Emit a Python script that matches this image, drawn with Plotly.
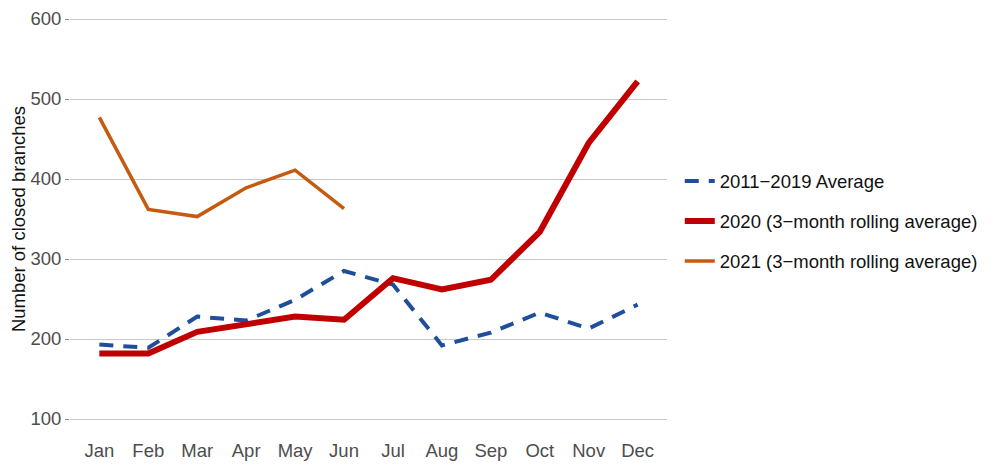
import plotly.graph_objects as go

months = ["Jan", "Feb", "Mar", "Apr", "May", "Jun", "Jul", "Aug", "Sep", "Oct", "Nov", "Dec"]
avg_2011_2019 = [193, 189, 228, 223, 249, 285, 268, 192, 208, 233, 213, 243]
rolling_2020 = [182, 182, 209, 218, 228, 224, 276, 262, 274, 334, 445, 522]
rolling_2021 = [477, 362, 353, 389, 411, 363]
y_ticks = [100, 200, 300, 400, 500, 600]

fig = go.Figure()
fig.add_trace(go.Scatter(x=months, y=avg_2011_2019, mode="lines", name="2011\u22122019 Average",
                         line=dict(color="#1f4e9a", width=4, dash="14px,10px"), legendgroup="a"))
fig.add_trace(go.Scatter(x=months, y=rolling_2020, mode="lines", name="2020 (3\u2212month rolling average)",
                         line=dict(color="#c00000", width=6), legendgroup="b"))
fig.add_trace(go.Scatter(x=months[:len(rolling_2021)], y=rolling_2021, mode="lines",
                         name="2021 (3\u2212month rolling average)",
                         line=dict(color="#c55a11", width=3.5), legendgroup="c"))

fig.update_layout(
    width=1000, height=471,
    paper_bgcolor="white", plot_bgcolor="white",
    margin=dict(l=62, r=341, t=7, b=56, autoexpand=False),
    font=dict(family="Liberation Sans, Arial, sans-serif", size=18.5, color="#222"),
    showlegend=True,
    legend=dict(x=1.0214, xanchor="left", y=0.494, yanchor="middle",
                font=dict(size=18.5, color="#111"), tracegroupgap=13, bgcolor="rgba(0,0,0,0)"),
    xaxis=dict(type="category", range=[-0.6, 11.6], showgrid=False, showline=False, zeroline=False,
               ticks="", tickfont=dict(size=18.5, color="#4d4d4d"), automargin=False,
               ticklabelstandoff=14, ticklabeloverflow="allow"),
    yaxis=dict(range=[95, 605], tickvals=y_ticks, showgrid=True, gridcolor="#c8c8c8", gridwidth=1,
               zeroline=False, showline=False, ticks="outside", ticklen=4, tickcolor="#888",
               tickfont=dict(size=18.5, color="#4d4d4d"), automargin=False,
               ticklabeloverflow="allow",
               title=dict(text="Number of closed branches", font=dict(size=18.5, color="#111"), standoff=13)),
)

fig.write_html("out.html")
